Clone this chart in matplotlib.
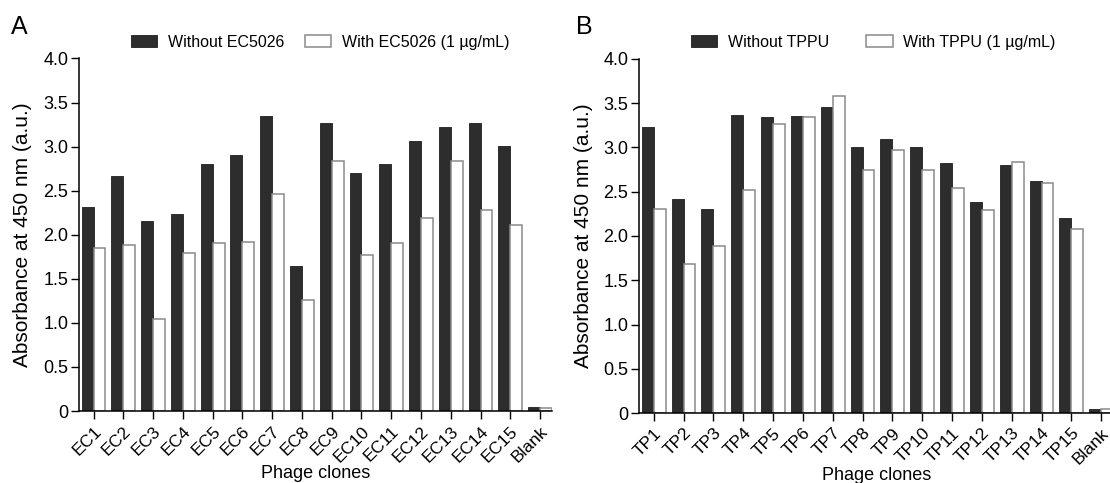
import matplotlib
matplotlib.use("Agg")
import matplotlib.pyplot as plt
import numpy as np

plt.rcParams['font.family'] = ['Liberation Sans', 'DejaVu Sans']

# ---- data ----
ec_labels = ["EC1", "EC2", "EC3", "EC4", "EC5", "EC6", "EC7", "EC8", "EC9", "EC10",
             "EC11", "EC12", "EC13", "EC14", "EC15", "Blank"]
ec_without = [2.32, 2.67, 2.16, 2.23, 2.80, 2.91, 3.35, 1.65, 3.27, 2.70,
              2.80, 3.06, 3.22, 3.27, 3.01, 0.05]
ec_with = [1.85, 1.88, 1.04, 1.79, 1.91, 1.92, 2.46, 1.26, 2.84, 1.77,
           1.91, 2.19, 2.84, 2.28, 2.11, 0.04]

tp_labels = ["TP1", "TP2", "TP3", "TP4", "TP5", "TP6", "TP7", "TP8", "TP9", "TP10",
             "TP11", "TP12", "TP13", "TP14", "TP15", "Blank"]
tp_without = [3.23, 2.42, 2.31, 3.37, 3.34, 3.36, 3.46, 3.00, 3.10, 3.00,
              2.82, 2.38, 2.80, 2.62, 2.20, 0.04]
tp_with = [2.31, 1.68, 1.89, 2.52, 3.27, 3.35, 3.58, 2.74, 2.97, 2.74,
           2.54, 2.29, 2.84, 2.60, 2.08, 0.05]

y_ticks = [0, 0.5, 1.0, 1.5, 2.0, 2.5, 3.0, 3.5, 4.0]
y_ticklabels = ["0", "0.5", "1.0", "1.5", "2.0", "2.5", "3.0", "3.5", "4.0"]

legend_A = ["Without EC5026", "With EC5026 (1 \u00b5g/mL)"]
legend_B = ["Without TPPU", "With TPPU (1 \u00b5g/mL)"]

DARK = "#2d2d2d"
EDGE_W = "#8a8a8a"
W = 0.4

fig = plt.figure(figsize=(11.1, 4.83), dpi=100)
axA = fig.add_axes([0.0714, 0.149, 0.4259, 0.730])
axB = fig.add_axes([0.5760, 0.1449, 0.4268, 0.733])


def draw(ax, labels, without, with_, leg, leg_x, colspace, letter, letter_x, ylab_x):
    x = np.arange(len(labels))
    b1 = ax.bar(x - W / 2, without, W, color=DARK, edgecolor="#1e1e1e", linewidth=0.6)
    b2 = ax.bar(x + W / 2, with_, W, color="white", edgecolor=EDGE_W, linewidth=1.1)
    ax.set_xlim(-0.48, 15.4)
    ax.set_ylim(0, 4.0)
    ax.set_yticks(y_ticks)
    ax.set_yticklabels(y_ticklabels, fontsize=13)
    ax.set_xticks(x)
    ax.set_xticklabels(labels, rotation=45, ha="right", va="top",
                       rotation_mode="anchor", fontsize=12.5)
    for s in ["top", "right"]:
        ax.spines[s].set_visible(False)
    for s in ["left", "bottom"]:
        ax.spines[s].set_linewidth(1.1)
    ax.tick_params(axis="both", direction="out", length=6, width=1.0, pad=2)
    ax.tick_params(axis="x", pad=3)
    ax.set_ylabel("Absorbance at 450 nm (a.u.)", fontsize=15)
    ax.yaxis.set_label_coords(ylab_x, 0.5)
    ax.yaxis.label.set_va("center")
    ax.set_xlabel("Phage clones", fontsize=13)
    ax.xaxis.set_label_coords(0.5, -0.176)
    ax.xaxis.label.set_va("center")
    fig.legend([b1, b2], leg, loc="center left", bbox_to_anchor=(leg_x, 0.912),
               ncol=2, frameon=False, fontsize=11.5, borderpad=0, borderaxespad=0,
               handlelength=1.65, handleheight=0.78, handletextpad=0.68,
               columnspacing=colspace)
    fig.text(letter_x, 0.944, letter, fontsize=18, ha="left", va="center")


draw(axA, ec_labels, ec_without, ec_with, legend_A, 0.118, 1.25, "A", 0.010, -0.12)
draw(axB, tp_labels, tp_without, tp_with, legend_B, 0.6225, 2.3, "B", 0.519, -0.118)

fig.savefig("out.png", dpi=100)
